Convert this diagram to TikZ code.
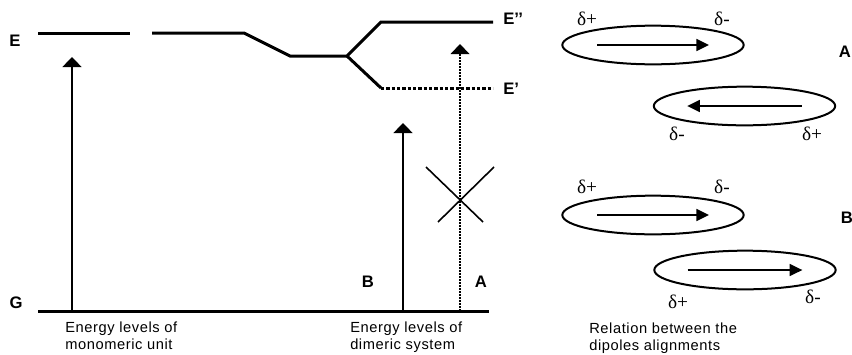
\documentclass[tikz,border=0pt]{standalone}
\usepackage{fontspec}
\setmainfont{Liberation Sans}
\newfontfamily\capfont[LetterSpace=4]{Liberation Sans}
\newfontfamily\greekfont{Liberation Serif}
\usetikzlibrary{arrows.meta,shapes.geometric}

\begin{document}
\begin{tikzpicture}[x=0.75pt,y=-0.75pt,
  level/.style={line width=2.25pt},
  lowlevel/.style={line width=2.25pt, dash pattern=on 2.6pt off 1.4pt},
  excite/.style={line width=1.9pt,-{Triangle[width=14pt,length=7.5pt]}},
  forbidden/.style={line width=1.1pt, dash pattern=on 1.5pt off 0.75pt,-{Triangle[width=14pt,length=7.5pt]}},
  crossline/.style={line width=1.2pt},
  lbl/.style={font=\bfseries\fontsize{12.5}{14}\selectfont, inner sep=0pt},
  captext/.style={font=\capfont\fontsize{11}{12.75}\selectfont, align=left, inner sep=0pt, anchor=north west},
  dipole/.style={draw, ellipse, line width=1.5pt, minimum width=136pt, minimum height=29pt, inner sep=0pt},
  moment/.style={line width=1.3pt,-{Triangle[width=9pt,length=9.5pt]}},
  charge/.style={font=\greekfont\fontsize{14.5}{16}\selectfont, inner sep=0pt}]

\useasboundingbox (0,0) rectangle (852,354);

% monomer excited level
\coordinate (m1) at (38,33);
\coordinate (m2) at (130,33);
\draw[level] (m1) -- (m2);

% dimer: shifted level split into E'' and E'
\coordinate (d1) at (152,33);
\coordinate (d2) at (244,33);
\coordinate (d3) at (290,56);
\coordinate (d4) at (347,56);
\coordinate (u1) at (381,22);
\coordinate (u2) at (493,22);
\coordinate (l1) at (381,88);
\coordinate (l2) at (493,88);
\draw[level] (d1) -- (d2) -- (d3) -- (d4) -- (u1) -- (u2);
\draw[level] (d4) -- (l1);
\draw[lowlevel] (l1) -- (l2);

% ground level
\coordinate (g1) at (38,311);
\coordinate (g2) at (489,311);
\draw[level] (g1) -- (g2);

% transitions
\coordinate (mb) at (72,311);
\coordinate (mt) at (72,57);
\draw[excite] (mb) -- (mt);
\coordinate (bb) at (403,311);
\coordinate (bt) at (403,123);
\draw[excite] (bb) -- (bt);
\coordinate (ab) at (460,311);
\coordinate (at) at (460,44);
\draw[forbidden] (ab) -- (at);

% forbidden mark
\coordinate (x1) at (426,167);
\coordinate (x2) at (483,222);
\coordinate (x3) at (494,167);
\coordinate (x4) at (438,222);
\draw[crossline] (x1) -- (x2);
\draw[crossline] (x3) -- (x4);

% level labels
\node[lbl] (lE) at (15,41) {E};
\node[lbl] (lG) at (16,303) {G};
\node[lbl, anchor=west] (lEpp) at (503,19) {E’’};
\node[lbl, anchor=west] (lEp) at (503,89) {E’};
\node[lbl] (lB) at (368,282) {B};
\node[lbl] (lA) at (481,282) {A};

% captions
\node[captext] (c1) at (65,321.5) {Energy levels of\\monomeric unit};
\node[captext] (c2) at (350,321.5) {Energy levels of\\dimeric system};
\node[captext] (c3) at (589,322.5) {Relation between the\\dipoles alignments};

% dipole pair A (antiparallel)
\node[dipole] (dA1) at (653,45) {};
\node[dipole] (dA2) at (744.5,106) {};
\draw[moment] ([xshift=-42pt]dA1.center) -- ([xshift=42pt]dA1.center);
\draw[moment] ([xshift=43pt]dA2.center) -- ([xshift=-43pt]dA2.center);
\node[charge] (qA1) at (587,19) {δ+};
\node[charge] (qA2) at (722,19) {δ-};
\node[charge] (qA3) at (677,134) {δ-};
\node[charge] (qA4) at (812,134) {δ+};
\node[lbl] (rA) at (845,52) {A};

% dipole pair B (parallel)
\node[dipole] (dB1) at (653,215) {};
\node[dipole] (dB2) at (745,270) {};
\draw[moment] ([xshift=-42pt]dB1.center) -- ([xshift=42pt]dB1.center);
\draw[moment] ([xshift=-43pt]dB2.center) -- ([xshift=43pt]dB2.center);
\node[charge] (qB1) at (587,187) {δ+};
\node[charge] (qB2) at (722,187) {δ-};
\node[charge] (qB3) at (678,302) {δ+};
\node[charge] (qB4) at (813,297) {δ-};
\node[lbl] (rB) at (847,218) {B};
\end{tikzpicture}
\end{document}
